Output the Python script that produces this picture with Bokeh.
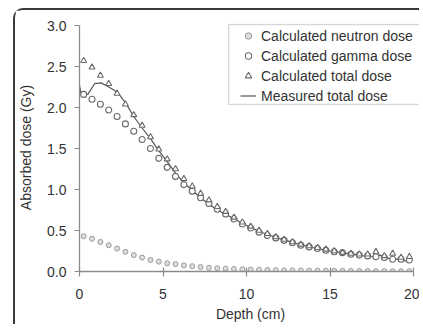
from bokeh.plotting import figure
from bokeh.models import (Range1d, FixedTicker, PrintfTickFormatter, Legend, LegendItem,
                          BoxAnnotation, ColumnDataSource, InlineStyleSheet)
from bokeh.embed import file_html
from bokeh.resources import INLINE

# ---- data ----
depth_calc = [0.25, 0.75, 1.25, 1.75, 2.25, 2.75, 3.25, 3.75, 4.25, 4.75,
              5.25, 5.75, 6.25, 6.75, 7.25, 7.75, 8.25, 8.75, 9.25, 9.75,
              10.25, 10.75, 11.25, 11.75, 12.25, 12.75, 13.25, 13.75, 14.25, 14.75,
              15.25, 15.75, 16.25, 16.75, 17.25, 17.75, 18.25, 18.75, 19.25, 19.75]
neutron_dose = [0.43, 0.40, 0.36, 0.32, 0.28, 0.24, 0.20, 0.17, 0.14, 0.12,
                0.10, 0.09, 0.075, 0.065, 0.055, 0.045, 0.040, 0.035, 0.030, 0.027,
                0.024, 0.021, 0.019, 0.017, 0.015, 0.013, 0.012, 0.011, 0.010, 0.009,
                0.008, 0.008, 0.007, 0.006, 0.006, 0.005, 0.005, 0.004, 0.004, 0.004]
gamma_dose = [2.16, 2.10, 2.04, 1.97, 1.89, 1.80, 1.71, 1.61, 1.50, 1.38,
              1.27, 1.16, 1.06, 0.98, 0.90, 0.83, 0.76, 0.70, 0.64, 0.58,
              0.53, 0.48, 0.44, 0.41, 0.38, 0.35, 0.32, 0.30, 0.28, 0.26,
              0.24, 0.23, 0.21, 0.20, 0.19, 0.18, 0.17, 0.15, 0.15, 0.14]
total_dose = [2.57, 2.49, 2.39, 2.29, 2.17, 2.04, 1.91, 1.78, 1.64, 1.49,
              1.37, 1.25, 1.13, 1.04, 0.95, 0.87, 0.79, 0.73, 0.66, 0.60,
              0.55, 0.50, 0.46, 0.42, 0.39, 0.36, 0.33, 0.31, 0.29, 0.27,
              0.25, 0.23, 0.22, 0.21, 0.21, 0.24, 0.19, 0.22, 0.17, 0.18]
depth_meas = [0.0, 0.1, 0.5, 0.9, 1.3, 1.75, 2.25, 2.75, 3.25, 3.75, 4.25, 4.75,
              5.25, 5.75, 6.25, 6.75, 7.25, 7.75, 8.25, 9.0, 10.0, 11.0, 12.0,
              13.0, 14.0, 15.0, 16.0, 17.0, 17.5, 18.0, 18.5, 19.0, 19.5, 19.8]
measured_dose = [2.27, 2.16, 2.16, 2.29, 2.30, 2.25, 2.19, 2.06, 1.89, 1.75, 1.62, 1.47,
                 1.34, 1.20, 1.08, 0.99, 0.90, 0.82, 0.75, 0.67, 0.56, 0.47, 0.40,
                 0.34, 0.29, 0.25, 0.22, 0.19, 0.18, 0.20, 0.16, 0.15, 0.13, 0.12]
x_ticks = [0, 5, 10, 15, 20]
y_ticks = [0.0, 0.5, 1.0, 1.5, 2.0, 2.5, 3.0]
series_labels = ["Calculated neutron dose", "Calculated gamma dose",
                 "Calculated total dose", "Measured total dose"]

FONT = "Liberation Sans"
TXT = "#333333"

p = figure(width=406, height=316, output_backend="svg", toolbar_location=None,
           x_range=Range1d(0, 20 + 8 / 16.8), y_range=Range1d(0, 3 + 2 / 82),
           min_border_left=61, min_border_right=0, min_border_top=13, min_border_bottom=55)
# rounded card edge at the top-left of the picture
p.stylesheets = [InlineStyleSheet(css=(
    ":host { margin-left: 13px; margin-top: 8px; "
    "border-left: 2px solid #3a3a3a; border-top: 2px solid #3a3a3a; "
    "border-right: 0 none; border-bottom: 0 none; outline: none; box-shadow: none; "
    "border-top-left-radius: 10px; }"))]
p.outline_line_color = None
p.xgrid.visible = False
p.ygrid.visible = False
p.background_fill_color = "white"
p.border_fill_color = "white"

src_c = ColumnDataSource(dict(x=depth_calc, n=neutron_dose, g=gamma_dose, t=total_dose))
src_m = ColumnDataSource(dict(x=depth_meas, m=measured_dose))

r_m = p.line("x", "m", source=src_m, line_color="#555555", line_width=1.2)
r_n = p.scatter("x", "n", source=src_c, marker="circle", size=5,
                line_color="#9a9a9a", fill_color="#dddddd", line_width=1)
r_g = p.scatter("x", "g", source=src_c, marker="circle", size=6,
                line_color="#6a6a6a", fill_color="white", line_width=1.1)
r_t = p.scatter("x", "t", source=src_c, marker="triangle", size=6,
                line_color="#6a6a6a", fill_color="white", line_width=1.1)

for ax in (p.xaxis[0], p.yaxis[0]):
    ax.axis_line_color = "#8c8c8c"
    ax.axis_line_width = 1.3
    ax.major_tick_line_color = "#8c8c8c"
    ax.major_tick_line_width = 1.2
    ax.minor_tick_line_color = None
    ax.major_label_text_font = FONT
    ax.major_label_text_font_size = "14px"
    ax.major_label_text_color = TXT
    ax.axis_label_text_font = FONT
    ax.axis_label_text_font_size = "14px"
    ax.axis_label_text_color = TXT
    ax.axis_label_text_font_style = "normal"

p.xaxis.bounds = (0, 20)
p.yaxis.bounds = (0, 3)
p.xaxis.ticker = FixedTicker(ticks=x_ticks)
p.yaxis.ticker = FixedTicker(ticks=y_ticks)
p.yaxis.formatter = PrintfTickFormatter(format="%.1f")
p.xaxis.major_tick_in = 4
p.xaxis.major_tick_out = 5
p.yaxis.major_tick_in = 0
p.yaxis.major_tick_out = 5
p.xaxis.major_label_standoff = 12
p.yaxis.major_label_standoff = 8
p.xaxis.axis_label = "Depth (cm)"
p.yaxis.axis_label = "Absorbed dose (Gy)"
p.xaxis.axis_label_standoff = 4
p.yaxis.axis_label_standoff = 10

legend = Legend(items=[LegendItem(label=series_labels[0], renderers=[r_n]),
                       LegendItem(label=series_labels[1], renderers=[r_g]),
                       LegendItem(label=series_labels[2], renderers=[r_t]),
                       LegendItem(label=series_labels[3], renderers=[r_m])],
                location=(161, 166), padding=0, margin=0, spacing=1,
                label_height=19, glyph_height=19, glyph_width=16, label_standoff=5,
                label_text_font=FONT, label_text_font_size="14px", label_text_color=TXT,
                border_line_alpha=0, background_fill_alpha=0)
p.add_layout(legend, "center")

legend_box = BoxAnnotation(left=8.93, right=20.42, top=3.012, bottom=2.037,
                           fill_alpha=0, line_color="#7a7a7a", line_width=1.3)
p.add_layout(legend_box)

open("out.html", "w").write(file_html(p, INLINE))
